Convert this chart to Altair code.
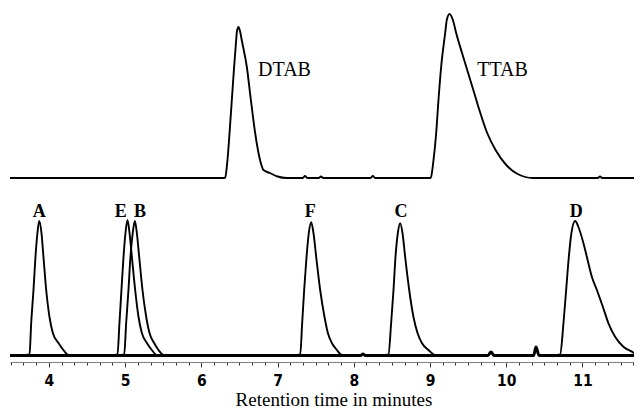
import altair as alt
import pandas as pd

# ---- top trace (surfactant standards) : time (min), signal ----
top_t = [3.49, 6.30, 6.313, 6.343, 6.37, 6.40, 6.43, 6.457, 6.466, 6.487, 6.51, 6.53, 6.597, 6.65, 6.706,
         6.77, 6.815, 6.90, 7.00, 7.12, 7.33, 7.36, 7.39, 7.54, 7.57, 7.60, 8.22, 8.25, 8.28,
         9.00, 9.011, 9.046, 9.081, 9.111, 9.146, 9.199, 9.22, 9.256, 9.30, 9.343, 9.42, 9.50, 9.58,
         9.66, 9.75, 9.86, 10.00, 10.15, 10.35, 11.20, 11.23, 11.26, 11.78]
top_y = [188, 188, 188.5, 206, 233, 266, 299, 326, 334, 339, 334, 326, 299, 266, 233,
         206, 196, 193, 189.5, 188, 188, 190, 188, 188, 189.5, 188, 188, 190, 188,
         188, 188.5, 206, 233, 266, 299, 333, 346, 352, 346, 333, 313, 293, 273,
         253, 233, 216, 201, 192, 188, 188, 189.5, 188, 188]

# ---- bottom runs (individual analytes) ----
A_t = [3.70, 3.746, 3.768, 3.798, 3.824, 3.85, 3.873, 3.903, 3.929, 3.965, 4.008, 4.052, 4.126, 4.19, 4.26, 4.32]
A_y = [11, 11.5, 43, 76, 109, 133, 145, 133, 109, 76, 49, 33, 23, 16, 11, 11]
E_t = [4.86, 4.90, 4.926, 4.952, 4.979, 5.005, 5.031, 5.058, 5.089, 5.132, 5.176, 5.22, 5.286, 5.35, 5.417, 5.46]
E_y = [11, 11.5, 43, 76, 109, 133, 146, 133, 109, 76, 49, 33, 23, 16, 11, 11]
B_t = [4.95, 4.988, 5.014, 5.044, 5.07, 5.10, 5.128, 5.154, 5.185, 5.228, 5.277, 5.32, 5.381, 5.438, 5.504, 5.55]
B_y = [11, 11.5, 43, 76, 109, 133, 145, 133, 109, 76, 49, 33, 23, 16, 11, 11]
F_t = [7.26, 7.297, 7.323, 7.349, 7.38, 7.41, 7.441, 7.471, 7.507, 7.559, 7.616, 7.66, 7.712, 7.778, 7.844, 7.89]
F_y = [11, 11.5, 43, 76, 109, 133, 143.7, 133, 109, 76, 49, 33, 23, 16, 11, 11]
C_t = [8.42, 8.455, 8.49, 8.521, 8.547, 8.578, 8.608, 8.639, 8.674, 8.727, 8.783, 8.836, 8.893, 8.98, 9.068, 9.11]
C_y = [11, 11.5, 43, 76, 109, 133, 142.7, 133, 109, 76, 49, 33, 23, 16, 11, 11]
D_t = [10.67, 10.707, 10.751, 10.786, 10.821, 10.855, 10.904, 10.947, 11.013, 11.057, 11.123, 11.189,
       11.267, 11.341, 11.428, 11.537, 11.648, 11.73, 11.78]
D_y = [11, 11.5, 43, 76, 109, 133, 145, 139, 122.7, 109.3, 89.3, 76, 59.3, 42.7, 29.3, 19.3, 14.3, 11, 11]

# shared baseline of the overlaid runs
base_t = [3.49, 8.09, 8.12, 8.15, 9.76, 9.80, 9.84, 10.36, 10.39, 10.43, 11.78]
base_y = [10.5, 10.5, 12, 10.5, 10.5, 14, 10.5, 10.5, 19, 10.5, 10.5]

# labels
peak_names = ["A", "E", "B", "F", "C", "D"]
peak_label_t = [3.873, 4.942, 5.194, 7.428, 8.619, 10.92]
peak_label_y = [149.5, 149.5, 149.5, 149.5, 149.5, 149.5]
std_names = ["DTAB", "TTAB"]
std_label_t = [6.745, 9.62]
std_label_y = [290, 290]

major_ticks = [4, 5, 6, 7, 8, 9, 10, 11]
tick_values = [round(3.5 + k / 6, 4) for k in range(50)]

top_df = pd.DataFrame({"t": top_t, "s": top_y})
base_df = pd.DataFrame({"t": base_t, "s": base_y})
runs = []
for name, tt, yy in [("A", A_t, A_y), ("E", E_t, E_y), ("B", B_t, B_y),
                     ("F", F_t, F_y), ("C", C_t, C_y), ("D", D_t, D_y)]:
    runs.append(pd.DataFrame({"t": tt, "s": yy, "run": name}))
runs_df = pd.concat(runs, ignore_index=True)
peak_df = pd.DataFrame({"t": peak_label_t, "s": peak_label_y, "label": peak_names})
std_df = pd.DataFrame({"t": std_label_t, "s": std_label_y, "label": std_names})

is_int = "abs(datum.value - round(datum.value)) < 0.001"
xaxis = alt.Axis(
    values=tick_values,
    labelExpr=f"{is_int} ? format(datum.value, 'd') : ''",
    tickSize={"condition": {"test": is_int, "value": 5}, "value": 3},
    labelFont="Liberation Sans Narrow, Arial Narrow, DejaVu Sans Condensed, Liberation Sans",
    labelFontSize=15.5, labelFontWeight="bold", labelColor="black",
    labelBaseline="alphabetic", labelPadding=18.5, labelOverlap=False, labelFlush=False,
    domainColor="#808080", domainWidth=1, tickColor="#333333", tickWidth=1,
    grid=False,
    title="Retention time in minutes", titleFont="Liberation Serif", titleFontSize=19,
    titleFontWeight="normal", titleColor="black", titleBaseline="alphabetic",
    titleX=323.5, titleY=43, titleAlign="center",
)
xs = alt.Scale(domain=[3.49, 11.676], nice=False, zero=False)
X = alt.X("t:Q", scale=xs, axis=xaxis)
Y = alt.Y("s:Q", scale=alt.Scale(domain=[4, 356], nice=False, zero=False), axis=None)

top = alt.Chart(top_df).mark_line(color="black", strokeWidth=1.9, interpolate="monotone", clip=True).encode(x=X, y=Y)
base = alt.Chart(base_df).mark_line(color="black", strokeWidth=3, interpolate="monotone", clip=True).encode(x=X, y=Y)
peaks = alt.Chart(runs_df).mark_line(color="black", strokeWidth=1.9, interpolate="monotone", clip=True).encode(
    x=X, y=Y, detail="run:N")
plabels = alt.Chart(peak_df).mark_text(font="Liberation Serif", fontSize=18, fontWeight="bold",
                                       color="black", baseline="alphabetic", align="center").encode(
    x=X, y=Y, text="label:N")
slabels = alt.Chart(std_df).mark_text(font="Liberation Serif", fontSize=20, fontWeight="normal",
                                      color="black", baseline="alphabetic", align="left").encode(
    x=X, y=Y, text="label:N")

chart = alt.layer(top, base, peaks, plabels, slabels).properties(
    width=624, height=352,
    autosize=alt.AutoSizeParams(type="none"),
    padding={"left": 2, "top": 2, "right": 0, "bottom": 47},
).configure_view(stroke=None)

chart.save("out.html", embed_options={"renderer": "svg", "actions": False})
